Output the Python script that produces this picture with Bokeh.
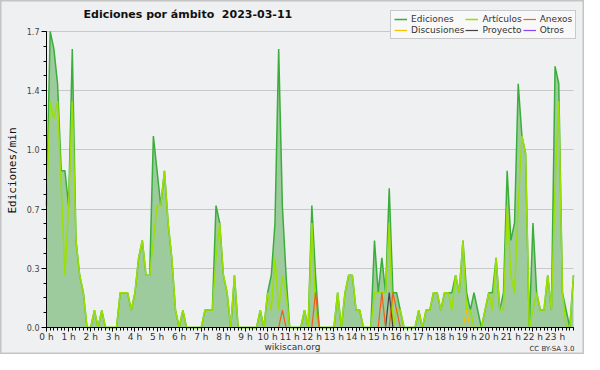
import math
from bokeh.plotting import figure
from bokeh.models import Range1d, FixedTicker, Label, Legend, LegendItem
from bokeh.embed import file_html
from bokeh.resources import INLINE

# ---- data (edits per minute, 10-minute bins, 2023-03-11) ----
hour_labels = [f"{h} h" for h in range(24)]
ytick_labels = ["0.0", "0.3", "0.7", "1.0", "1.4", "1.7"]
y_max = 1.7

ediciones = [
    0.7, 1.7, 1.6, 1.4, 0.9, 0.9, 0.7, 1.6, 0.5, 0.3,
    0.2, 0.0, 0.0, 0.1, 0.0, 0.1, 0.0, 0.0, 0.0, 0.0,
    0.2, 0.2, 0.2, 0.1, 0.2, 0.4, 0.5, 0.3, 0.3, 1.1,
    0.9, 0.7, 0.9, 0.6, 0.4, 0.1, 0.0, 0.1, 0.0, 0.0,
    0.0, 0.0, 0.0, 0.1, 0.1, 0.1, 0.7, 0.6, 0.3, 0.2,
    0.0, 0.3, 0.0, 0.0, 0.0, 0.0, 0.0, 0.0, 0.1, 0.0,
    0.2, 0.3, 0.6, 1.6, 0.7, 0.3, 0.0, 0.0, 0.0, 0.0,
    0.1, 0.0, 0.7, 0.3, 0.0, 0.0, 0.0, 0.0, 0.0, 0.2,
    0.0, 0.2, 0.3, 0.3, 0.1, 0.1, 0.0, 0.0, 0.0, 0.5,
    0.2, 0.4, 0.2, 0.8, 0.2, 0.2, 0.1, 0.0, 0.0, 0.0,
    0.0, 0.1, 0.0, 0.1, 0.1, 0.2, 0.2, 0.1, 0.2, 0.2,
    0.2, 0.3, 0.2, 0.5, 0.2, 0.1, 0.2, 0.1, 0.0, 0.1,
    0.2, 0.2, 0.4, 0.1, 0.2, 0.9, 0.5, 0.6, 1.4, 1.1,
    1.0, 0.0, 0.6, 0.2, 0.1, 0.1, 0.3, 0.1, 1.5, 1.4,
    0.2, 0.1, 0.0, 0.3,
]
articulos = [
    0.7, 1.3, 1.2, 1.3, 0.8, 0.3, 0.7, 1.3, 0.5, 0.3,
    0.2, 0.0, 0.0, 0.1, 0.0, 0.1, 0.0, 0.0, 0.0, 0.0,
    0.2, 0.2, 0.2, 0.1, 0.2, 0.4, 0.5, 0.3, 0.3, 0.5,
    0.7, 0.7, 0.9, 0.6, 0.4, 0.1, 0.0, 0.1, 0.0, 0.0,
    0.0, 0.0, 0.0, 0.1, 0.1, 0.1, 0.4, 0.6, 0.3, 0.2,
    0.0, 0.3, 0.0, 0.0, 0.0, 0.0, 0.0, 0.0, 0.1, 0.0,
    0.2, 0.1, 0.4, 0.1, 0.3, 0.2, 0.0, 0.0, 0.0, 0.0,
    0.1, 0.0, 0.6, 0.1, 0.0, 0.0, 0.0, 0.0, 0.0, 0.2,
    0.0, 0.2, 0.3, 0.3, 0.1, 0.1, 0.0, 0.0, 0.0, 0.2,
    0.2, 0.2, 0.2, 0.6, 0.0, 0.1, 0.1, 0.0, 0.0, 0.0,
    0.0, 0.1, 0.0, 0.1, 0.1, 0.2, 0.2, 0.1, 0.2, 0.2,
    0.1, 0.3, 0.2, 0.5, 0.1, 0.1, 0.0, 0.0, 0.0, 0.1,
    0.2, 0.1, 0.4, 0.1, 0.1, 0.7, 0.3, 0.2, 0.7, 1.1,
    1.0, 0.0, 0.1, 0.2, 0.1, 0.1, 0.3, 0.1, 0.8, 1.3,
    0.2, 0.0, 0.0, 0.3,
]
anexos = [
    0.0, 0.0, 0.0, 0.0, 0.0, 0.0, 0.0, 0.0, 0.0, 0.0,
    0.0, 0.0, 0.0, 0.0, 0.0, 0.0, 0.0, 0.0, 0.0, 0.0,
    0.0, 0.0, 0.0, 0.0, 0.0, 0.0, 0.0, 0.0, 0.0, 0.0,
    0.0, 0.0, 0.0, 0.0, 0.0, 0.0, 0.0, 0.0, 0.0, 0.0,
    0.0, 0.0, 0.0, 0.0, 0.0, 0.0, 0.0, 0.0, 0.0, 0.0,
    0.0, 0.0, 0.0, 0.0, 0.0, 0.0, 0.0, 0.0, 0.0, 0.0,
    0.0, 0.0, 0.0, 0.0, 0.1, 0.0, 0.0, 0.0, 0.0, 0.0,
    0.0, 0.0, 0.0, 0.2, 0.0, 0.0, 0.0, 0.0, 0.0, 0.0,
    0.0, 0.0, 0.0, 0.0, 0.0, 0.0, 0.0, 0.0, 0.0, 0.0,
    0.0, 0.2, 0.0, 0.0, 0.2, 0.1, 0.0, 0.0, 0.0, 0.0,
    0.0, 0.0, 0.0, 0.0, 0.0, 0.0, 0.0, 0.0, 0.0, 0.0,
    0.0, 0.0, 0.0, 0.0, 0.0, 0.0, 0.0, 0.0, 0.0, 0.0,
    0.0, 0.0, 0.0, 0.0, 0.0, 0.0, 0.0, 0.0, 0.0, 0.0,
    0.0, 0.0, 0.0, 0.0, 0.0, 0.0, 0.0, 0.0, 0.0, 0.0,
    0.0, 0.0, 0.0, 0.0,
]
discusiones = [
    0.0, 0.0, 0.0, 0.0, 0.0, 0.0, 0.0, 0.0, 0.0, 0.0,
    0.0, 0.0, 0.0, 0.0, 0.0, 0.0, 0.0, 0.0, 0.0, 0.0,
    0.0, 0.0, 0.0, 0.0, 0.0, 0.0, 0.0, 0.0, 0.0, 0.0,
    0.0, 0.0, 0.0, 0.0, 0.0, 0.0, 0.0, 0.0, 0.0, 0.0,
    0.0, 0.0, 0.0, 0.0, 0.0, 0.0, 0.0, 0.0, 0.0, 0.0,
    0.0, 0.0, 0.0, 0.0, 0.0, 0.0, 0.0, 0.0, 0.0, 0.0,
    0.0, 0.0, 0.0, 0.0, 0.0, 0.0, 0.0, 0.0, 0.0, 0.0,
    0.0, 0.0, 0.0, 0.0, 0.0, 0.0, 0.0, 0.0, 0.0, 0.0,
    0.0, 0.0, 0.0, 0.0, 0.0, 0.0, 0.0, 0.0, 0.0, 0.0,
    0.0, 0.0, 0.0, 0.0, 0.0, 0.0, 0.0, 0.0, 0.0, 0.0,
    0.0, 0.0, 0.0, 0.0, 0.0, 0.0, 0.0, 0.0, 0.0, 0.0,
    0.0, 0.0, 0.0, 0.0, 0.1, 0.0, 0.0, 0.0, 0.0, 0.0,
    0.0, 0.0, 0.0, 0.0, 0.0, 0.0, 0.0, 0.0, 0.0, 0.0,
    0.0, 0.0, 0.0, 0.0, 0.0, 0.0, 0.0, 0.0, 0.0, 0.0,
    0.0, 0.0, 0.0, 0.0,
]
proyecto = [
    0.0, 0.0, 0.0, 0.0, 0.0, 0.0, 0.0, 0.0, 0.0, 0.0,
    0.0, 0.0, 0.0, 0.0, 0.0, 0.0, 0.0, 0.0, 0.0, 0.0,
    0.0, 0.0, 0.0, 0.0, 0.0, 0.0, 0.0, 0.0, 0.0, 0.0,
    0.0, 0.0, 0.0, 0.0, 0.0, 0.0, 0.0, 0.0, 0.0, 0.0,
    0.0, 0.0, 0.0, 0.0, 0.0, 0.0, 0.0, 0.0, 0.0, 0.0,
    0.0, 0.0, 0.0, 0.0, 0.0, 0.0, 0.0, 0.0, 0.0, 0.0,
    0.0, 0.0, 0.0, 0.0, 0.0, 0.0, 0.0, 0.0, 0.0, 0.0,
    0.0, 0.0, 0.0, 0.0, 0.0, 0.0, 0.0, 0.0, 0.0, 0.0,
    0.0, 0.0, 0.0, 0.0, 0.0, 0.0, 0.0, 0.0, 0.0, 0.0,
    0.0, 0.0, 0.0, 0.2, 0.0, 0.0, 0.0, 0.0, 0.0, 0.0,
    0.0, 0.0, 0.0, 0.0, 0.0, 0.0, 0.0, 0.0, 0.0, 0.0,
    0.0, 0.0, 0.0, 0.0, 0.0, 0.0, 0.0, 0.0, 0.0, 0.0,
    0.0, 0.0, 0.0, 0.0, 0.0, 0.0, 0.0, 0.0, 0.0, 0.0,
    0.0, 0.0, 0.0, 0.0, 0.0, 0.0, 0.0, 0.0, 0.0, 0.0,
    0.0, 0.0, 0.0, 0.0,
]
otros = [0.0] * 144

# time of each 10-minute bin, in hours
t = [i / 6 for i in range(len(ediciones))]
t_end = t[-1]

FONT = "DejaVu Sans"

# Canvas layout in pixels: the data area spans x 46..573 and y 31..327
W, H = 584, 354
PX_L, PX_R = 46, 573
PY_T, PY_B = 31, 327
px_per_h = (PX_R - PX_L) / t_end
px_per_u = (PY_B - PY_T) / y_max
x_lo = -PX_L / px_per_h
x_hi = t_end + (W - PX_R) / px_per_h
y_lo = -(H - PY_B) / px_per_u
y_hi = y_max + PY_T / px_per_u

p = figure(width=W, height=H, output_backend="svg", toolbar_location=None,
           title=None,
           x_range=Range1d(x_lo, x_hi), y_range=Range1d(y_lo, y_hi),
           min_border_left=0, min_border_right=0, min_border_top=0, min_border_bottom=0,
           background_fill_color="#eff0f1", border_fill_color="#eff0f1",
           outline_line_color="#c4c4c4", outline_line_width=2)

# axes (pinned at the data origin)
yticks = [y_max * k / 5 for k in range(6)]
p.yaxis.ticker = FixedTicker(ticks=yticks, minor_ticks=[y_max * k / 20 for k in range(21)])
p.yaxis.major_label_overrides = {v: s for v, s in zip(yticks, ytick_labels)}
p.yaxis.bounds = (0, y_max)
p.yaxis.fixed_location = 0
p.xaxis.ticker = FixedTicker(ticks=list(range(24)), minor_ticks=t)
p.xaxis.major_label_overrides = {h: s for h, s in zip(range(24), hour_labels)}
p.xaxis.fixed_location = 0
p.xaxis.bounds = (0, t_end)

for ax in (p.xaxis[0], p.yaxis[0]):
    ax.axis_line_color = "black"
    ax.major_tick_line_color = "black"
    ax.minor_tick_line_color = "black"
    ax.major_tick_in = 0
    ax.minor_tick_in = 0
    ax.major_label_text_font = FONT
p.xaxis.major_tick_out = 4
p.xaxis.minor_tick_out = 3
p.xaxis.major_label_text_font_size = "9px"
p.xaxis.major_label_text_color = "#333333"
p.xaxis.major_label_standoff = 0
p.yaxis.major_tick_out = 5
p.yaxis.minor_tick_out = 3
p.yaxis.major_label_text_font_size = "8px"
p.yaxis.major_label_text_color = "#444444"
p.yaxis.major_label_standoff = 2

p.xgrid.grid_line_color = None
p.ygrid.grid_line_color = "#c8c8c8"
p.ygrid.grid_line_width = 1
g = p.ygrid[0]
if "cross_bounds" in g.properties():
    g.cross_bounds = (0, t_end)

# area + lines
p.varea(x=t, y1=0, y2=ediciones, fill_color="#9ecb9e", fill_alpha=1)
r_ed = p.line(t, ediciones, line_color="#3aae3a", line_width=1.5)
r_art = p.line(t, articulos, line_color="#9be000", line_width=1.5)
r_otr = p.line(t, otros, line_color="#8844ee", line_width=1.2)
r_dis = p.line(t, discusiones, line_color="#f2c200", line_width=1.2)
r_pro = p.line(t, proyecto, line_color="#444444", line_width=1.2)
r_anx = p.line(t, anexos, line_color="#f06018", line_width=1.2)

LEG_H = 27
legend = Legend(items=[
    LegendItem(label="Ediciones", renderers=[r_ed]),
    LegendItem(label="Discusiones", renderers=[r_dis]),
    LegendItem(label="Artículos", renderers=[r_art]),
    LegendItem(label="Proyecto", renderers=[r_pro]),
    LegendItem(label="Anexos", renderers=[r_anx]),
    LegendItem(label="Otros", renderers=[r_otr]),
], location=(390, H - 12 - LEG_H), orientation="vertical", ncols=3,
    label_text_font=FONT, label_text_font_size="9px", label_text_color="#333333",
    glyph_width=13, glyph_height=10, label_height=10, label_standoff=4,
    spacing=1, padding=3, margin=0,
    border_line_color="#999999", background_fill_color="#f8f8f8", background_fill_alpha=1)
p.add_layout(legend, "center")

# texts (screen units: pixels from the canvas bottom-left)
p.add_layout(Label(x=83, y=H - 13.5, x_units="screen", y_units="screen",
                   text="Ediciones por ámbito\u00a0 2023-03-11", text_font=FONT,
                   text_font_style="bold", text_font_size="11px", text_color="#111111",
                   text_baseline="middle", text_align="left"))
p.add_layout(Label(x=12, y=H - 170, x_units="screen", y_units="screen",
                   text="Ediciones/min", text_font="DejaVu Sans Mono",
                   text_font_size="11px", text_color="#111111", angle=math.pi / 2,
                   text_baseline="middle", text_align="center"))
p.add_layout(Label(x=292, y=H - 346, x_units="screen", y_units="screen",
                   text="wikiscan.org", text_font=FONT, text_font_size="9px",
                   text_color="#333333", text_baseline="middle", text_align="center"))
p.add_layout(Label(x=574, y=H - 348, x_units="screen", y_units="screen",
                   text="CC BY-SA 3.0", text_font=FONT, text_font_size="7px",
                   text_color="#333333", text_baseline="middle", text_align="right"))

open("out.html", "w").write(file_html(p, INLINE))
